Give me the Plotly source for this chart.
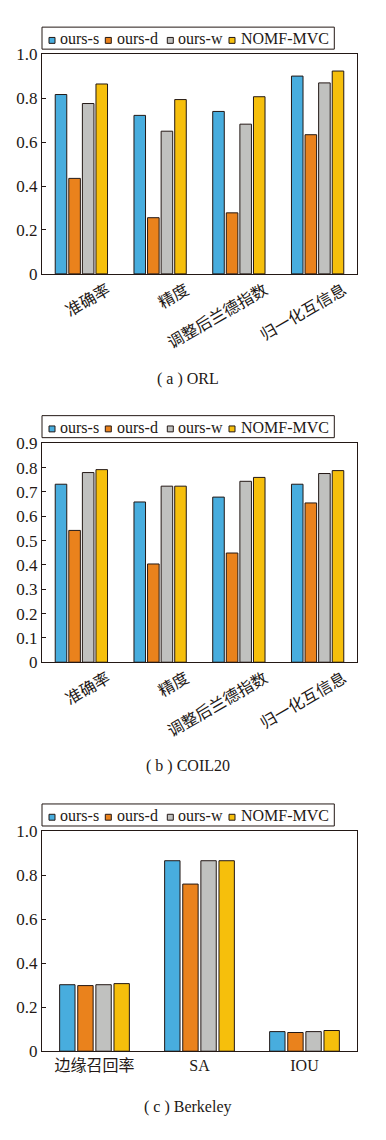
import plotly.graph_objects as go

# page is 386x1140; the browser body keeps its default 8px margin, so the figure is 370x1124
W, H = 370, 1124
OFF = 8

series = ["ours-s", "ours-d", "ours-w", "NOMF-MVC"]
colors = ["#48ADDE", "#EA821C", "#C0C1BF", "#F6BF0C"]
edge = "#231815"

cats_a = ["准确率", "精度", "调整后兰德指数", "归一化互信息"]
orl_s = [0.817, 0.722, 0.740, 0.901]
orl_d = [0.435, 0.256, 0.278, 0.634]
orl_w = [0.776, 0.650, 0.682, 0.870]
orl_n = [0.865, 0.794, 0.807, 0.924]

cats_b = ["准确率", "精度", "调整后兰德指数", "归一化互信息"]
coil_s = [0.732, 0.659, 0.679, 0.732]
coil_d = [0.542, 0.404, 0.449, 0.655]
coil_w = [0.780, 0.724, 0.744, 0.776]
coil_n = [0.792, 0.724, 0.760, 0.788]

cats_c = ["边缘召回率", "SA", "IOU"]
berk_s = [0.302, 0.865, 0.089]
berk_d = [0.298, 0.759, 0.085]
berk_w = [0.302, 0.865, 0.089]
berk_n = [0.307, 0.865, 0.094]

ticks_a = [0, 0.2, 0.4, 0.6, 0.8, 1.0]
ticktext_a = ["0", "0.2", "0.4", "0.6", "0.8", "1.0"]
ticks_b = [0, 0.1, 0.2, 0.3, 0.4, 0.5, 0.6, 0.7, 0.8, 0.9]
ticktext_b = ["0", "0.1", "0.2", "0.3", "0.4", "0.5", "0.6", "0.7", "0.8", "0.9"]
ticks_c = [0, 0.2, 0.4, 0.6, 0.8, 1.0]
ticktext_c = ["0", "0.2", "0.4", "0.6", "0.8", "1.0"]

captions = ["( a ) ORL", "( b ) COIL20", "( c ) Berkeley"]

SERIF = "Liberation Serif, Noto Sans CJK SC, serif"


def px(x):
    return (x - OFF) / W


def py(y):
    return 1 - (y - OFF) / H


fig = go.Figure()

panels = [
    (cats_a, [orl_s, orl_d, orl_w, orl_n], "x", "y"),
    (cats_b, [coil_s, coil_d, coil_w, coil_n], "x2", "y2"),
    (cats_c, [berk_s, berk_d, berk_w, berk_n], "x3", "y3"),
]
for cats, vals, xa, ya in panels:
    for name, v, c in zip(series, vals, colors):
        fig.add_trace(go.Bar(x=cats, y=v, name=name, xaxis=xa, yaxis=ya,
                             marker=dict(color=c, line=dict(color=edge, width=1)),
                             showlegend=False))

# pixel geometry of each panel in page coordinates: (plot top, plot bottom)
geo = [(46, 269.3), (441.7, 664.3), (836, 1060)]
xdom = [px(42), px(357)]

yticks = [(ticks_a, ticktext_a, [0, 1.0]), (ticks_b, ticktext_b, [0, 0.9]), (ticks_c, ticktext_c, [0, 1.0])]

axis_common = dict(showline=True, mirror=True, linecolor=edge, linewidth=1,
                   showgrid=False, zeroline=False)

layout = dict(width=W, height=H, margin=dict(l=0, r=0, t=0, b=0),
              plot_bgcolor="white", paper_bgcolor="white",
              barmode="group", bargap=0.31, bargroupgap=0.15,
              font=dict(family=SERIF, color=edge))

for i, ((top, bot), (tv, tt, rng)) in enumerate(zip(geo, yticks)):
    sfx = "" if i == 0 else str(i + 1)
    xa = dict(axis_common, domain=xdom, anchor="y" + sfx, ticks="",
              tickfont=dict(family=SERIF, size=16, color=edge))
    if i < 2:
        xa.update(tickangle=-30, ticklabelshift=26)
    ya = dict(axis_common, domain=[py(bot), py(top)], anchor="x" + sfx,
              range=rng, tickvals=tv, ticktext=tt, ticks="inside", ticklen=4,
              tickcolor=edge, tickfont=dict(family=SERIF, size=17, color=edge))
    layout["xaxis" + sfx] = xa
    layout["yaxis" + sfx] = ya

fig.update_layout(**layout)

# manual legends
shapes = []
annotations = []
legend_tops = [18.3, 413.5, 808.5]
sq_off = [7, 63.3, 125.3, 187]
tx_off = [16, 73, 134.3, 196.7]
for top in legend_tops:
    left = 42
    shapes.append(dict(type="rect", xref="paper", yref="paper",
                       x0=px(left), x1=px(334.3), y0=py(top + 22.4), y1=py(top),
                       line=dict(color=edge, width=1), fillcolor="white"))
    for name, c, so, to in zip(series, colors, sq_off, tx_off):
        shapes.append(dict(type="rect", xref="paper", yref="paper",
                           x0=px(left + so), x1=px(left + so + 6),
                           y0=py(top + 16.5), y1=py(top + 10.5),
                           line=dict(color=edge, width=1), fillcolor=c))
        annotations.append(dict(text=name, xref="paper", yref="paper",
                                x=px(left + to), y=py(top + 12), xanchor="left",
                                yanchor="middle", showarrow=False,
                                font=dict(family=SERIF, size=16, color=edge)))

cap_y = [376.5, 770, 1116.5]
for cap, cy in zip(captions, cap_y):
    annotations.append(dict(text=cap, xref="paper", yref="paper", x=px(188), y=py(cy),
                            xanchor="center", yanchor="middle", showarrow=False,
                            font=dict(family=SERIF, size=16, color=edge)))

fig.update_layout(shapes=shapes, annotations=annotations)
fig.write_html("out.html", config={"displayModeBar": False})
